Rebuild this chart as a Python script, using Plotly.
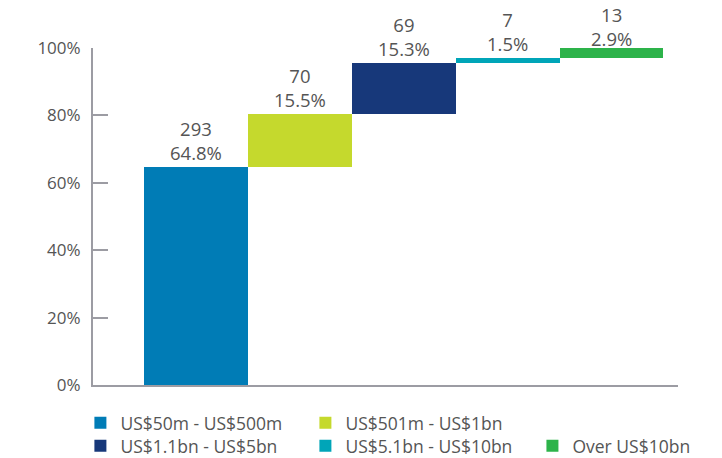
import plotly.graph_objects as go

categories = ["US$50m - US$500m", "US$501m - US$1bn", "US$1.1bn - US$5bn",
              "US$5.1bn - US$10bn", "Over US$10bn"]
counts = [293, 70, 69, 7, 13]
percents = [64.8, 15.5, 15.3, 1.5, 2.9]
colors = ["#007CB6", "#C5D92D", "#17387A", "#00A5B8", "#2DB34A"]
legend_groups = ["legend", "legend", "legend2", "legend2", "legend3"]
y_ticks = [0, 20, 40, 60, 80, 100]
y_tick_labels = ["0%", "20%", "40%", "60%", "80%", "100%"]

bases = []
acc = 0.0
for p in percents:
    bases.append(acc)
    acc += p

fig = go.Figure()
for i, name in enumerate(categories):
    top = bases[i] + percents[i]
    fig.add_trace(go.Bar(
        x=[i], y=[percents[i]], base=[bases[i]], width=1.0,
        name=name, marker=dict(color=colors[i], line=dict(width=0)),
        cliponaxis=False, legend=legend_groups[i],
    ))
    fig.add_annotation(
        x=i, y=top, xref="x", yref="y",
        text=f"{counts[i]}<br>{percents[i]}%", showarrow=False,
        yanchor="bottom", xanchor="center",
        yshift=-5 if top > 99 else 0,
        font=dict(size=18.5, color="#555555", family="Open Sans"),
    )

legend_common = dict(orientation="h", xanchor="left", yanchor="middle",
                     xref="container", yref="container",
                     entrywidth=180, entrywidthmode="pixels",
                     font=dict(size=17.5, color="#555555", family="Open Sans"),
                     bgcolor="rgba(0,0,0,0)", itemsizing="constant",
                     traceorder="normal")

fig.update_layout(
    width=714, height=450,
    margin=dict(l=85, r=44, t=40, b=73, autoexpand=False),
    paper_bgcolor="white", plot_bgcolor="white",
    font=dict(family="Open Sans", color="#555555"),
    barmode="overlay", bargap=0,
    showlegend=True,
    legend=dict(x=0.1014, y=0.0778, **legend_common),
    legend2=dict(x=0.1014, y=0.0267, **legend_common),
    legend3=dict(x=0.7345, y=0.0267, **legend_common),
    xaxis=dict(range=[-0.99, 4.64], showgrid=False, zeroline=False,
               showline=True, linecolor="#9C9CA3", linewidth=2,
               ticks="inside", tickvals=[4.64], ticklen=7, tickwidth=1.5,
               tickcolor="#9C9CA3", showticklabels=False),
    yaxis=dict(range=[0, 100], tickvals=y_ticks, ticktext=y_tick_labels,
               showgrid=False, zeroline=False, showline=True,
               linecolor="#9C9CA3", linewidth=2, ticks="inside", ticklen=15,
               tickwidth=1.5, tickcolor="#9C9CA3", ticklabelstandoff=7,
               tickfont=dict(size=17, color="#555555", family="Open Sans")),
)

fig.write_html("out.html")
